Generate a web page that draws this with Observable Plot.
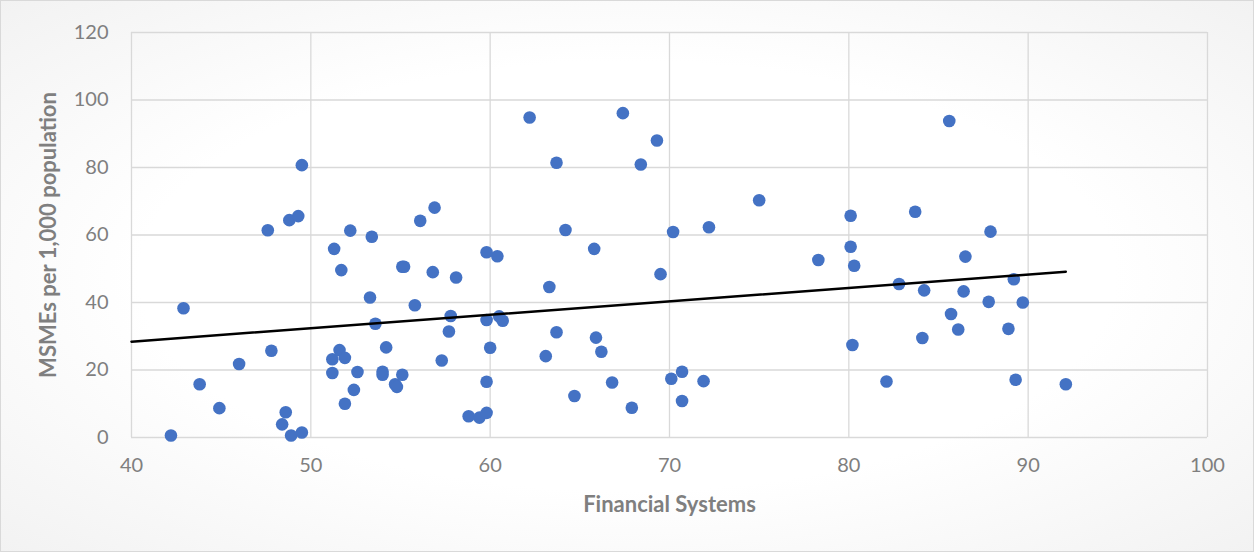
<!DOCTYPE html>
<html>
<head>
<meta charset="utf-8">
<script src="https://cdn.jsdelivr.net/npm/d3@7"></script>
<script src="https://cdn.jsdelivr.net/npm/@observablehq/plot@0.6"></script>
<style>
  html, body { margin: 0; padding: 0; }
  body { width: 1254px; height: 552px; overflow: hidden;
    background: radial-gradient(ellipse at center, #ffffff 55%, #f2f2f2 100%); }
  #chart svg { display: block; outline: 1px solid #d9d9d9; outline-offset: -1px; background: transparent; }
  g[aria-label="x-axis label"] text, g[aria-label="y-axis label"] text { font-weight: bold; font-size: 22px; }
</style>
</head>
<body>
<div id="chart"></div>
<script>
const financialSystems = [
  42.2, 42.9, 43.8, 44.9, 46.0, 47.6, 47.8, 48.4, 48.6, 48.8,
  48.9, 49.3, 49.5, 49.5, 51.2, 51.2, 51.3, 51.6, 51.7, 51.9,
  51.9, 52.2, 52.4, 52.6, 53.3, 53.4, 53.6, 54.0, 54.0, 54.2,
  54.7, 54.8, 55.1, 55.1, 55.2, 55.8, 56.1, 56.8, 56.9, 57.3,
  57.7, 57.8, 58.1, 58.8, 59.4, 59.8, 59.8, 59.8, 59.8, 60.0,
  60.4, 60.5, 60.7, 62.2, 63.1, 63.3, 63.7, 63.7, 64.2, 64.7,
  65.8, 65.9, 66.2, 66.8, 67.4, 67.9, 68.4, 69.3, 69.5, 70.1,
  70.2, 70.7, 70.7, 71.9, 72.2, 75.0, 78.3, 80.1, 80.1, 80.3,
  80.2, 82.1, 82.8, 83.7, 84.2, 84.1, 85.6, 85.7, 86.1, 86.4,
  86.5, 87.8, 87.9, 88.9, 89.2, 89.3, 89.7, 92.1
];
const msmesPer1000 = [
  0.6, 38.3, 15.8, 8.7, 21.8, 61.4, 25.7, 3.9, 7.5, 64.4,
  0.6, 65.6, 1.5, 80.7, 23.2, 19.1, 55.9, 25.9, 49.6, 23.6,
  10.0, 61.3, 14.1, 19.4, 41.5, 59.5, 33.7, 19.5, 18.6, 26.7,
  15.8, 15.0, 18.6, 50.6, 50.6, 39.2, 64.2, 49.0, 68.1, 22.8,
  31.4, 36.0, 47.4, 6.3, 5.9, 7.3, 16.5, 54.9, 34.8, 26.6,
  53.7, 35.9, 34.6, 94.8, 24.1, 44.6, 81.4, 31.2, 61.5, 12.3,
  55.9, 29.6, 25.4, 16.3, 96.1, 8.8, 80.9, 88.0, 48.4, 17.4,
  60.9, 19.5, 10.8, 16.7, 62.3, 70.3, 52.6, 65.7, 56.5, 50.9,
  27.4, 16.6, 45.5, 66.9, 43.6, 29.5, 93.8, 36.6, 32.0, 43.3,
  53.6, 40.2, 61.0, 32.2, 46.9, 17.1, 40.0, 15.8
];
const trendX = [40, 92.1];
const trendY = [28.4, 49.1];
const xTicks = [40, 50, 60, 70, 80, 90, 100];
const yTicks = [0, 20, 40, 60, 80, 100, 120];

const points = financialSystems.map((x, i) => ({x, y: msmesPer1000[i]}));
const trend = trendX.map((x, i) => ({x, y: trendY[i]}));

const chart = Plot.plot({
  width: 1254,
  height: 552,
  marginLeft: 131,
  marginRight: 47,
  marginTop: 32,
  marginBottom: 115,
  style: { fontFamily: "Lato, 'Noto Sans', sans-serif", fontSize: "20px", color: "#7f7f7f", background: "transparent" },
  x: { domain: [40, 100] },
  y: { domain: [0, 120] },
  marks: [
    Plot.gridX(xTicks, { stroke: "#d9d9d9", strokeOpacity: 1, strokeWidth: 1.3 }),
    Plot.gridY(yTicks, { stroke: "#d9d9d9", strokeOpacity: 1, strokeWidth: 1.3 }),
    Plot.axisX(xTicks, { tickSize: 0, tickPadding: 20, label: "Financial Systems", labelAnchor: "center", labelOffset: 74, labelArrow: "none", fill: "#7f7f7f" }),
    Plot.axisY(yTicks, { tickSize: 0, tickPadding: 23, label: "MSMEs per 1,000 population", labelAnchor: "center", labelOffset: 91, labelArrow: "none", fill: "#7f7f7f" }),
    Plot.dot(points, { x: "x", y: "y", r: 6.3, fill: "#4472C4", stroke: "none" }),
    Plot.line(trend, { x: "x", y: "y", stroke: "#000000", strokeWidth: 2.5 })
  ]
});
document.getElementById("chart").appendChild(chart);
</script>
</body>
</html>
